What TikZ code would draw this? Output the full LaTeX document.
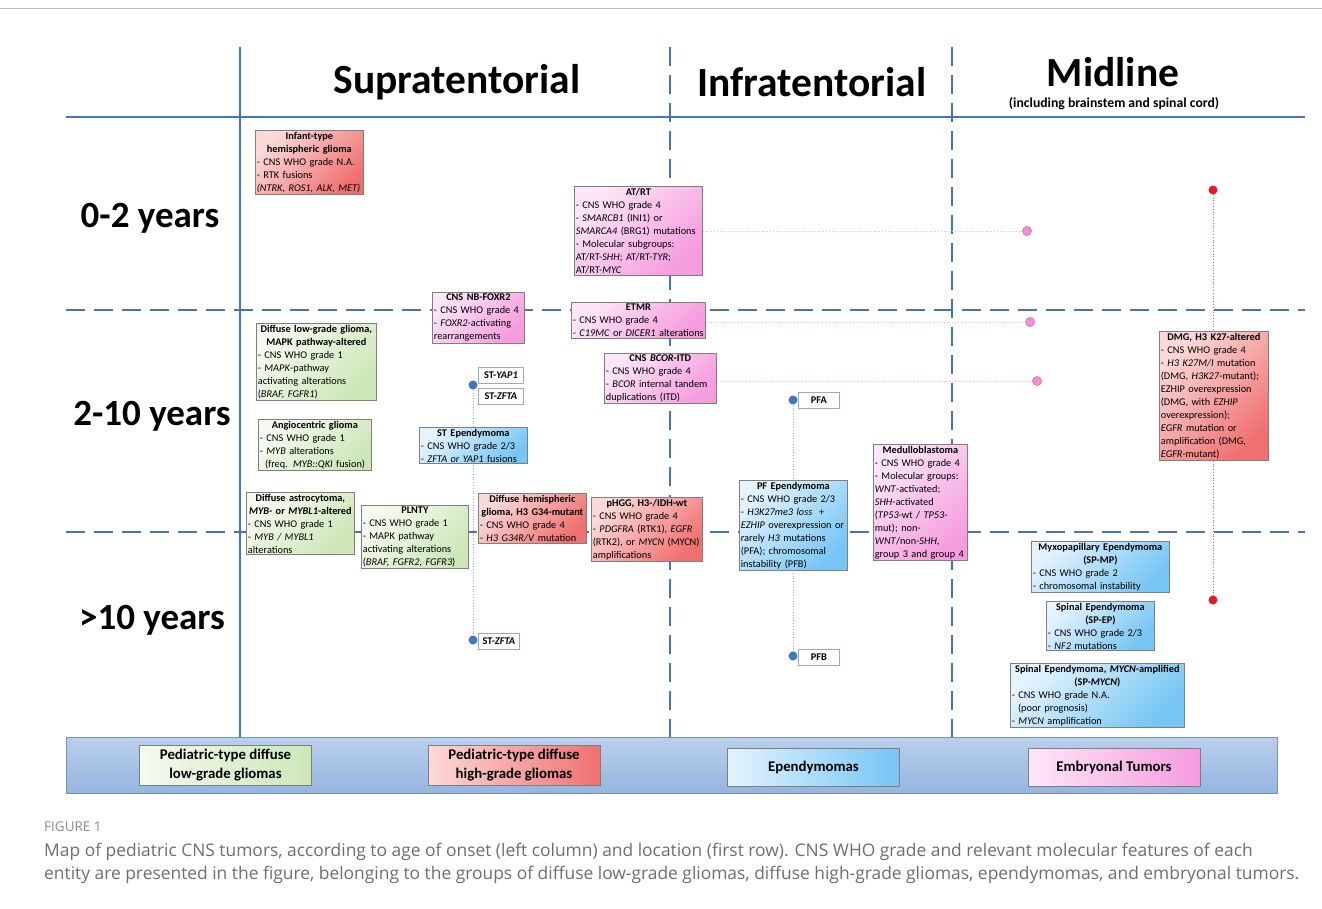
\documentclass[tikz,border=0pt]{standalone}
\usepackage{fontspec}
\setmainfont{Carlito}
\newfontfamily\capfont{Open Sans}
\usetikzlibrary{positioning}
\setlength{\parindent}{0pt}

\definecolor{gridblue}{HTML}{4472C4}
\definecolor{boxgray}{HTML}{7F7F7F}
\definecolor{tagblue}{HTML}{8FAADC}
\definecolor{framegray}{HTML}{BFBFBF}
\definecolor{lggA}{HTML}{F5FAF0}
\definecolor{lggB}{HTML}{CDE7B8}
\definecolor{hggA}{HTML}{FCD9D9}
\definecolor{hggB}{HTML}{F07070}
\definecolor{epnA}{HTML}{E4F3FD}
\definecolor{epnB}{HTML}{76C5F4}
\definecolor{embA}{HTML}{FDE6F7}
\definecolor{embB}{HTML}{F59CDE}
\definecolor{bandA}{HTML}{BACFEC}
\definecolor{bandB}{HTML}{95B5E0}
\definecolor{pinkdot}{HTML}{F28ED3}
\definecolor{reddot}{HTML}{E31B23}
\definecolor{capgray}{HTML}{6D6E71}

\newcommand{\bt}[1]{\makebox[\hsize]{\bfseries #1}}

\tikzstyle{gridline}=[gridblue,line width=2.8pt]
\tikzstyle{griddash}=[gridline,dash pattern=on 19pt off 9pt]
\tikzstyle{box}=[draw=boxgray,line width=0.7pt,anchor=north west,inner xsep=1.5pt,inner ysep=1.5pt,align=left,font=\fontsize{10.3}{13}\selectfont]
\tikzstyle{lgg}=[box,top color=lggA,bottom color=lggB,shading angle=45]
\tikzstyle{hgg}=[box,top color=hggA,bottom color=hggB,shading angle=45]
\tikzstyle{epn}=[box,top color=epnA,bottom color=epnB,shading angle=45]
\tikzstyle{emb}=[box,top color=embA,bottom color=embB,shading angle=45]
\tikzstyle{key}=[draw=boxgray,line width=0.7pt,minimum width=172pt,minimum height=40pt,align=center,font=\fontsize{14.8}{19}\selectfont\bfseries]
\tikzstyle{tag}=[draw=tagblue,fill=white,line width=0.8pt,anchor=west,minimum width=45pt,minimum height=16pt,inner sep=1pt,font=\fontsize{10.3}{11}\selectfont\bfseries]
\tikzstyle{bdot}=[circle,fill=gridblue,minimum size=9pt,inner sep=0pt]
\tikzstyle{pdot}=[circle,fill=pinkdot,draw=pinkdot!80!black,line width=0.4pt,minimum size=9pt,inner sep=0pt]
\tikzstyle{rdot}=[circle,fill=reddot,minimum size=9pt,inner sep=0pt]
\tikzstyle{bline}=[tagblue,line width=0.8pt,dotted]
\tikzstyle{pline}=[pinkdot!70,line width=0.8pt,dotted]
\tikzstyle{rline}=[reddot!70,line width=0.8pt,dotted]
\tikzstyle{head}=[font=\fontsize{41.5}{45}\selectfont\bfseries]
\tikzstyle{age}=[font=\fontsize{37}{40}\selectfont\bfseries]

\begin{document}
\begin{tikzpicture}[x=1pt,y=-1pt]
  \useasboundingbox (0,0) rectangle (1322,908);
  \fill[white] (0,0) rectangle (1322,908);
  \draw[framegray,line width=0.8pt] (0,8) -- (1322,8);

  % legend band and grid
  \node[draw=bandB!80!black,line width=0.5pt,top color=bandA,bottom color=bandB,minimum width=1211pt,minimum height=56pt,inner sep=0pt] (band) at (671.5,765) {};
  \draw[gridline] (240,47) -- (240,737);
  \draw[gridline] (66,117) -- (1305,117);
  \draw[griddash] (670,47) -- (670,737);
  \draw[griddash] (952,47) -- (952,737);
  \draw[griddash] (66,310) -- (1305,310);
  \draw[griddash] (66,532) -- (1305,532);

  % headers
  \node[head] (supra) at (457,82) {Supratentorial};
  \node[head] (infra) at (812,82) {Infratentorial};
  \node[head] (mid) at (1113,72) {Midline};
  \node[font=\fontsize{13.7}{15}\selectfont\bfseries] (midsub) at (1114,104) {(including brainstem and spinal cord)};
  \node[age] (age1) at (150,218) {0-2 years};
  \node[age] (age2) at (152,416) {2-10 years};
  \node[age] (age3) at (152,620) {>10 years};

  % dots and connectors
  \node[bdot] (dyap) at (473,385) {};
  \node[bdot] (dzfta) at (473,640) {};
  \node[bdot] (dpfa) at (793,400) {};
  \node[bdot] (dpfb) at (793,656) {};
  \node[rdot] (rtop) at (1213,190) {};
  \node[rdot] (rbot) at (1213,600) {};
  \node[pdot] (patrt) at (1027,231) {};
  \node[pdot] (petmr) at (1030,322) {};
  \node[pdot] (pbcor) at (1037,381) {};
  \draw[bline] (dyap) -- (dzfta);
  \draw[bline] (dpfa) -- (dpfb);
  \draw[rline] (rtop) -- (rbot);

  % entities
  \node[hgg,text width=105pt] (infant) at (255,130) {\bt{Infant-type}\\\bt{hemispheric glioma}\\- CNS WHO grade N.A.\\- RTK fusions\\\textit{(NTRK, ROS1, ALK, MET)}};
  \node[emb,text width=125pt] (atrt) at (574,186) {\bt{AT/RT}\\- CNS WHO grade 4\\- \textit{SMARCB1} (INI1) or\\\textit{SMARCA4} (BRG1) mutations\\- Molecular subgroups:\\AT/RT-\textit{SHH}; AT/RT-\textit{TYR};\\AT/RT-\textit{MYC}};
  \node[emb,text width=89pt] (foxr2) at (432,292) {\bt{CNS NB-FOXR2}\\- CNS WHO grade 4\\- \textit{FOXR2}-activating\\rearrangements};
  \node[emb,text width=131pt] (etmr) at (571,302) {\bt{ETMR}\\- CNS WHO grade 4\\- \textit{C19MC} or \textit{DICER1} alterations};
  \node[emb,text width=109pt] (bcor) at (604,353) {\bt{CNS \textit{BCOR}-ITD}\\- CNS WHO grade 4\\- \textit{BCOR} internal tandem\\duplications (ITD)};
  \node[lgg,text width=117pt] (dlgg) at (256,323) {\bt{Diffuse low-grade glioma,}\\\bt{MAPK pathway-altered}\\- CNS WHO grade 1\\- \textit{MAPK}-pathway\\activating alterations\\(\textit{BRAF, FGFR1})};
  \node[lgg,text width=110pt] (angio) at (258,419) {\bt{Angiocentric glioma}\\- CNS WHO grade 1\\- \textit{MYB} alterations\\\hspace*{0.5em}(freq. \textit{MYB::QKI} fusion)};
  \node[epn,text width=105pt] (stepn) at (419,427) {\bt{ST Ependymoma}\\- CNS WHO grade 2/3\\- \textit{ZFTA or YAP1} fusions};
  \node[lgg,text width=105pt] (dastro) at (246,492) {\bt{Diffuse astrocytoma,}\\\bt{\textit{MYB}- or \textit{MYBL1}-altered}\\- CNS WHO grade 1\\- \textit{MYB / MYBL1}\\alterations};
  \node[lgg,text width=104pt] (plnty) at (361,505) {\bt{PLNTY}\\- CNS WHO grade 1\\- MAPK pathway\\activating alterations\\(\textit{BRAF, FGFR2, FGFR3})};
  \node[hgg,text width=105pt] (dhg) at (478,493) {\bt{Diffuse hemispheric}\\\bt{glioma, H3 G34-mutant}\\- CNS WHO grade 4\\- \textit{H3 G34R/V} mutation};
  \node[hgg,text width=108pt] (phgg) at (591,497) {\bt{pHGG, H3-/IDH-wt}\\- CNS WHO grade 4\\- \textit{PDGFRA} (RTK1), \textit{EGFR}\\(RTK2), or \textit{MYCN} (MYCN)\\amplifications};
  \node[epn,text width=105pt] (pfepn) at (739,480) {\bt{PF Ependymoma}\\- CNS WHO grade 2/3\\- \textit{H3K27me3 loss}\ \ +\\\textit{EZHIP} overexpression or\\rarely \textit{H3} mutations\\(PFA); chromosomal\\instability (PFB)};
  \node[emb,text width=91pt] (medullo) at (873,444) {\bt{Medulloblastoma}\\- CNS WHO grade 4\\- Molecular groups:\\\textit{WNT}-activated;\\\textit{SHH}-activated\\(\textit{TP53}-wt / \textit{TP53}-\\mut); non-\\\textit{WNT}/non-\textit{SHH},\\group 3 and group 4};
  \node[hgg,text width=106pt] (dmg) at (1159,331) {\bt{DMG, H3 K27-altered}\\- CNS WHO grade 4\\- \textit{H3 K27M/I} mutation\\(DMG, \textit{H3K27}-mutant);\\EZHIP overexpression\\(DMG, with \textit{EZHIP}\\overexpression);\\\textit{EGFR} mutation or\\amplification (DMG,\\\textit{EGFR}-mutant)};
  \node[epn,text width=135pt] (spmp) at (1031,541) {\bt{Myxopapillary Ependymoma}\\\bt{(SP-MP)}\\- CNS WHO grade 2\\- chromosomal instability};
  \node[epn,text width=105pt] (spep) at (1046,601) {\bt{Spinal Ependymoma}\\\bt{(SP-EP)}\\- CNS WHO grade 2/3\\- \textit{NF2} mutations};
  \node[epn,text width=171pt] (spmycn) at (1010,663) {\bt{Spinal Ependymoma, \textit{MYCN}-amplified}\\\bt{(SP-\textit{MYCN})}\\- CNS WHO grade N.A.\\\hspace*{0.6em}(poor prognosis)\\- \textit{MYCN} amplification};

  % pink links to midline
  \draw[pline] (patrt -| atrt.east) -- (patrt);
  \draw[pline] (petmr -| etmr.east) -- (petmr);
  \draw[pline] (pbcor -| bcor.east) -- (pbcor);
  \node[pdot] at (patrt) {};
  \node[pdot] at (petmr) {};
  \node[pdot] at (pbcor) {};

  % subgroup tags
  \node[tag] (tyap) at (478,375) {ST-\textit{YAP1}};
  \node[tag] (tzfta) at (478,396) {ST-\textit{ZFTA}};
  \node[tag,minimum width=41pt] (tzfta2) at (478,641) {ST-\textit{ZFTA}};
  \node[tag,minimum width=41pt] (tpfa) at (798,400) {PFA};
  \node[tag,minimum width=41pt] (tpfb) at (798,657) {PFB};

  % legend
  \node[key,left color=lggA,right color=lggB] (klgg) at (225.5,765.5) {Pediatric-type diffuse\\low-grade gliomas};
  \node[key,left color=hggA,right color=hggB] (khgg) at (514,765.5) {Pediatric-type diffuse\\high-grade gliomas};
  \node[key,left color=epnA,right color=epnB,minimum height=38pt] (kepn) at (813.5,767) {Ependymomas};
  \node[key,left color=embA,right color=embB,minimum height=38pt] (kemb) at (1114,767) {Embryonal Tumors};

  % caption
  \node[anchor=base west,inner sep=0pt,text=capgray!80,font=\capfont\fontsize{13.5}{15}\selectfont] (fig) at (44,831) {FIGURE 1};
  \node[anchor=base west,inner sep=0pt,text=capgray,font=\capfont\fontsize{17.4}{20}\selectfont] (cap1) at (44,856) {Map of pediatric CNS tumors, according to age of onset (left column) and location (first row). CNS WHO grade and relevant molecular features of each};
  \node[anchor=base west,inner sep=0pt,text=capgray,font=\capfont\fontsize{17.4}{20}\selectfont] (cap2) at (44,879) {entity are presented in the figure, belonging to the groups of diffuse low-grade gliomas, diffuse high-grade gliomas, ependymomas, and embryonal tumors.};
\end{tikzpicture}
\end{document}
